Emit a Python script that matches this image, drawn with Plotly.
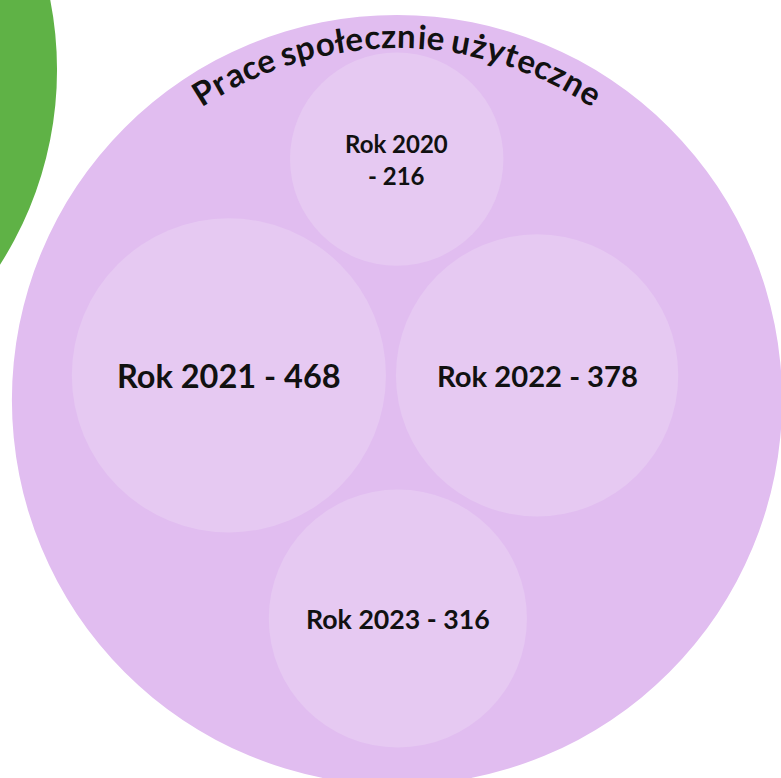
import math
import plotly.graph_objects as go

# ---- data -------------------------------------------------------------
GROUP_NAME = "Prace społecznie użyteczne"
YEARS = ["Rok 2020", "Rok 2021", "Rok 2022", "Rok 2023"]
COUNTS = [216, 468, 378, 316]

# ---- style / layout parameters ---------------------------------------
W, H = 781, 778
PX_PER_SQRT = 7.26          # leaf radius = sqrt(value) * PX_PER_SQRT
PAD = 5.0                   # half of the gap between sibling circles
GROUP_PAD = 32.5            # ring between the children and the group outline
VIEW_LEFT, VIEW_TOP = 397, 400   # window offset from the group centre

NEIGHBOUR_SCALE = 0.94      # neighbouring group radius relative to this group
NEIGHBOUR_GAP = 28.7
NEIGHBOUR_BEARING = 205.2   # degrees, screen coordinates (y down)

GROUP_FILL = "#E1BDF0"
LEAF_FILL = "#E6C9F2"
NEIGHBOUR_FILL = "#5FB246"
TEXT_COLOR = "#111111"
FONT = "Lato"

LABEL_EM_PER_RADIUS = 0.207
MIN_LABEL_FONT = 24
WRAP_RATIO = 0.72
WRAP_LINE_HEIGHT = 1.33

TITLE_FONT = 33
TITLE_TRACKING = 1.05       # multiplier on advance widths along the arc
TITLE_BASELINE_INSET = 31   # distance of the arc baseline from the outline

# approximate advance widths of Lato Bold, in em
ADV = {
    " ": 0.19, "P": 0.62, "R": 0.62, "r": 0.39, "a": 0.52, "c": 0.46,
    "e": 0.53, "s": 0.42, "p": 0.57, "o": 0.57, "ł": 0.30, "z": 0.46,
    "n": 0.57, "i": 0.26, "u": 0.57, "ż": 0.46, "y": 0.53, "t": 0.38,
    "k": 0.53, "-": 0.37,
}


def adv(ch):
    if ch.isdigit():
        return 0.58
    return ADV.get(ch, 0.55)


def text_width(s, size):
    return sum(adv(ch) for ch in s) * size


# ---- circle packing (front-chain placement, as in d3.packSiblings) ----
class Circle:
    def __init__(self, name, value, r):
        self.name, self.value, self.r = name, value, r
        self.x = self.y = 0.0


def place(b, a, c):
    dx, dy = b.x - a.x, b.y - a.y
    d2 = dx * dx + dy * dy
    a2 = (a.r + c.r) ** 2
    b2 = (b.r + c.r) ** 2
    if a2 > b2:
        x = (d2 + b2 - a2) / (2 * d2)
        y = math.sqrt(max(0.0, b2 / d2 - x * x))
        c.x = b.x - x * dx - y * dy
        c.y = b.y - x * dy + y * dx
    else:
        x = (d2 + a2 - b2) / (2 * d2)
        y = math.sqrt(max(0.0, a2 / d2 - x * x))
        c.x = a.x + x * dx - y * dy
        c.y = a.y + x * dy + y * dx


def enclose(circles):
    cx = sum(c.x for c in circles) / len(circles)
    cy = sum(c.y for c in circles) / len(circles)

    def f(x, y):
        return max(math.hypot(x - c.x, y - c.y) + c.r for c in circles)

    dirs = [(math.cos(2 * math.pi * k / 48), math.sin(2 * math.pi * k / 48))
            for k in range(48)]
    best, step = f(cx, cy), 64.0
    while step > 1e-6:
        moved = False
        for ux, uy in dirs:
            v = f(cx + ux * step, cy + uy * step)
            if v < best - 1e-12:
                cx, cy, best, moved = cx + ux * step, cy + uy * step, v, True
                break
        if not moved:
            step /= 2
    return cx, cy, best


leaves = [Circle(n, v, math.sqrt(v) * PX_PER_SQRT + PAD) for n, v in zip(YEARS, COUNTS)]
order = sorted(leaves, key=lambda c: -c.value)
a, b = order[0], order[1]
a.x, a.y = -b.r, 0.0
b.x, b.y = a.r, 0.0
place(b, a, order[2])
place(a, b, order[3])

ex, ey, er = enclose(order)
for c in leaves:
    c.x -= ex
    c.y -= ey
    c.r -= PAD
group_r = er + GROUP_PAD

neighbour_r = group_r * NEIGHBOUR_SCALE
nd = group_r + neighbour_r + NEIGHBOUR_GAP
nb = math.radians(NEIGHBOUR_BEARING)
nx, ny = nd * math.cos(nb), nd * math.sin(nb)

# ---- figure ----------------------------------------------------------
shapes = []


def disc(x, y, r, color):
    shapes.append(dict(type="circle", xref="x", yref="y",
                       x0=x - r, x1=x + r, y0=y - r, y1=y + r,
                       fillcolor=color, line=dict(width=0), layer="below"))


disc(nx, ny, neighbour_r, NEIGHBOUR_FILL)
disc(0, 0, group_r, GROUP_FILL)
for c in leaves:
    disc(c.x, c.y, c.r, LEAF_FILL)

annotations = []

# leaf labels
for c in leaves:
    label = f"{c.name} - {c.value}"
    fs = max(LABEL_EM_PER_RADIUS * c.r, MIN_LABEL_FONT)
    if text_width(label, fs) > WRAP_RATIO * 2 * c.r:
        lines = [c.name, f"- {c.value}"]
    else:
        lines = [label]
    n = len(lines)
    for i, line in enumerate(lines):
        annotations.append(dict(
            x=c.x, y=c.y + (i - (n - 1) / 2) * WRAP_LINE_HEIGHT * fs,
            xref="x", yref="y", text=line, showarrow=False,
            xanchor="center", yanchor="middle",
            font=dict(family=FONT, size=fs, color=TEXT_COLOR, weight=700)))

# group name set along the top of the outline
base_r = group_r - TITLE_BASELINE_INSET
step_of = lambda ch: adv(ch) * TITLE_FONT * TITLE_TRACKING
total = sum(step_of(ch) for ch in GROUP_NAME)
s = -total / 2
for ch in GROUP_NAME:
    w = step_of(ch)
    mid = s + w / 2
    s += w
    if ch == " ":
        continue
    phi = mid / base_r
    rc = base_r + 0.32 * TITLE_FONT
    annotations.append(dict(
        x=rc * math.sin(phi), y=-rc * math.cos(phi),
        xref="x", yref="y", text=ch, showarrow=False,
        xanchor="center", yanchor="middle", textangle=math.degrees(phi),
        font=dict(family=FONT, size=TITLE_FONT, color=TEXT_COLOR, weight=700)))

fig = go.Figure()
fig.add_trace(go.Scatter(x=[c.x for c in leaves], y=[c.y for c in leaves],
                         mode="markers", marker=dict(opacity=0), hoverinfo="skip",
                         showlegend=False))
fig.update_layout(
    width=W, height=H, margin=dict(l=0, r=0, t=0, b=0),
    paper_bgcolor="white", plot_bgcolor="white",
    shapes=shapes, annotations=annotations, showlegend=False,
    xaxis=dict(range=[-VIEW_LEFT, W - VIEW_LEFT], visible=False, fixedrange=True),
    yaxis=dict(range=[H - VIEW_TOP, -VIEW_TOP], visible=False, fixedrange=True),
)
fig.write_html("out.html")
